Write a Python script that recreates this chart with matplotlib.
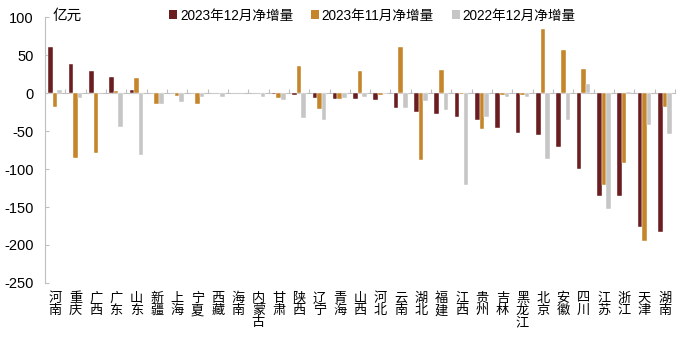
import matplotlib
matplotlib.use("Agg")
import matplotlib.pyplot as plt
import numpy as np
from matplotlib.patches import Patch

plt.rcParams['font.family'] = ['Liberation Sans', 'Noto Sans CJK SC', 'DejaVu Sans']
plt.rcParams['axes.unicode_minus'] = False

provinces = ["河南", "重庆", "广西", "广东", "山东", "新疆", "上海", "宁夏", "西藏", "海南",
             "内蒙古", "甘肃", "陕西", "辽宁", "青海", "山西", "河北", "云南", "湖北", "福建",
             "江西", "贵州", "吉林", "黑龙江", "北京", "安徽", "四川", "江苏", "浙江", "天津", "湖南"]

dec_2023 = [61, 38, 29, 21, 3.5, -0.5, 0, 0, 0, 0,
            0, -1, -2.5, -6, -8, -8, -9, -20, -25, -28,
            -31, -35, -46, -52, -55, -71, -100, -135, -136, -176, -183]
nov_2023 = [-18, -85, -79, 2.5, 20, -15, -4, -15, 0, 0,
            0, -6, 36, -21, -8, 29.5, -3, 61, -88, 30.5,
            -1.5, -47, -3, -2, 85, 57, 32, -121, -92, -195, -18]
dec_2022 = [4.5, -7, 0, -45, -81, -15, -11.5, -4.5, -5.5, 0,
            -5, -9, -33, -35, -6, -4.5, -1.5, -19, -10.5, -22,
            -121, -32, -5.5, -4.5, -87, -36, 12.5, -153, 1.5, -42, -54]

series_names = ["2023年12月净增量", "2023年11月净增量", "2022年12月净增量"]
colors = ["#6B1E20", "#C4852B", "#C6C6C6"]

fig = plt.figure(figsize=(7.0, 3.43), dpi=100)
ax = fig.add_axes([0.0643, 0.175, 0.9, 0.775])

x = np.arange(len(provinces))
w = 0.225
for i, (vals, c) in enumerate(zip([dec_2023, nov_2023, dec_2022], colors)):
    ax.bar(x + (i - 1) * w, vals, width=w, color=c, edgecolor="white", linewidth=0.3, zorder=3)

ax.set_xlim(-0.5, len(provinces) - 0.5)
ax.set_ylim(-250, 100)
ax.set_yticks([100, 50, 0, -50, -100, -150, -200, -250])
ax.tick_params(axis="y", direction="in", length=3, color="#BFBFBF", labelsize=10.5, pad=8)

for s in ["top", "right"]:
    ax.spines[s].set_visible(False)
ax.spines["left"].set_color("#BFBFBF")
ax.spines["bottom"].set_position(("data", 0))
ax.spines["bottom"].set_color("#BFBFBF")

# boundary ticks on the zero line, pointing upward
ax.set_xticks(np.arange(-0.5, len(provinces), 1.0))
ax.tick_params(axis="x", direction="in", length=3, color="#BFBFBF", labelbottom=False)

# category labels stacked vertically under the plot area
sec = ax.secondary_xaxis("bottom")
sec.set_xticks(x)
sec.set_xticklabels(["\n".join(p) for p in provinces], fontsize=9.5, linespacing=1.0, va="top")
sec.tick_params(length=0, pad=7)
sec.spines["bottom"].set_visible(False)

fig.text(0.075, 0.955, "亿元", fontsize=10.5, ha="left", va="center")

handles = [Patch(facecolor=c, edgecolor="none") for c in colors]
ax.legend(handles, series_names, loc="center", bbox_to_anchor=(0.532, 0.955), bbox_transform=fig.transFigure,
          ncol=3, frameon=False, fontsize=9.8, handlelength=0.6, handleheight=0.6,
          handletextpad=0.2, columnspacing=1.3)

fig.savefig("out.png", dpi=100)
